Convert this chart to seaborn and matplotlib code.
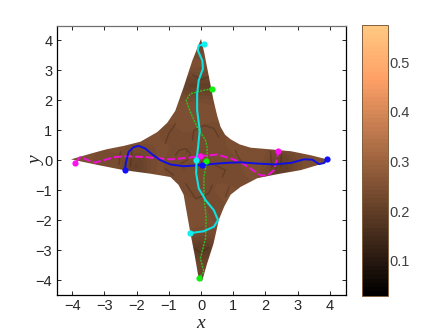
import numpy as np
import matplotlib
matplotlib.use("Agg")
import matplotlib.pyplot as plt
from matplotlib.patches import Polygon
import seaborn as sns

# star outline, read clockwise from the top tip
star_x = [0, .1, .19, .29, .39, .5, .61, .75, .92, 1.2, 1.54, 2.2, 2.8, 3.4, 4.03,
          3.6, 3.1, 2.4, 1.75, 1.23, .92, .72, .55, .47, .39, .19, .03,
          -.08, -.2, -.33, -.45, -.54, -.7, -.95, -1.57, -2.4, -3.2, -4.04,
          -3.4, -2.92, -2.4, -1.88, -1.36, -1.05, -.8, -.54, -.4, -.27]
star_y = [4.05, 3.6, 3.1, 2.55, 2.0, 1.5, 1.11, .85, .7, .53, .42, .36, .3, .17, 0,
          -.17, -.33, -.46, -.6, -.89, -1.15, -1.55, -2.0, -2.4, -2.78, -3.45, -4.05,
          -3.9, -3.15, -2.43, -1.7, -1.15, -.82, -.56, -.45, -.33, -.16, .03,
          .23, .37, .48, .62, .94, 1.25, 1.65, 2.44, 2.9, 3.33]

# brightness of the texture on a 0.5 grid, rows from y=4 down to y=-4, x from -4 to 4
field = [
    [.25, .25, .25, .25, .25, .25, .25, .25, .18, .25, .25, .25, .25, .25, .25, .25, .25],
    [.25, .25, .25, .25, .25, .25, .25, .25, .24, .25, .25, .25, .25, .25, .25, .25, .25],
    [.25, .25, .25, .25, .25, .25, .25, .25, .25, .25, .25, .25, .25, .25, .25, .25, .25],
    [.25, .25, .25, .25, .25, .25, .25, .18, .19, .18, .25, .25, .25, .25, .25, .25, .25],
    [.25, .25, .25, .25, .25, .25, .25, .25, .25, .24, .25, .25, .25, .25, .25, .25, .25],
    [.25, .25, .25, .25, .25, .25, .25, .25, .25, .25, .25, .25, .25, .25, .25, .25, .25],
    [.25, .25, .25, .25, .25, .25, .23, .25, .24, .23, .25, .25, .25, .25, .25, .25, .25],
    [.25, .25, .25, .25, .25, .24, .25, .23, .23, .24, .25, .24, .25, .25, .25, .25, .25],
    [.25, .25, .22, .25, .18, .25, .24, .23, .25, .23, .24, .25, .25, .18, .24, .25, .23],
    [.25, .25, .25, .25, .19, .25, .24, .23, .24, .24, .23, .25, .24, .17, .25, .25, .25],
    [.25, .25, .25, .25, .25, .25, .25, .24, .23, .25, .25, .23, .25, .25, .25, .25, .25],
    [.25, .25, .25, .25, .25, .25, .25, .25, .25, .23, .25, .25, .25, .25, .25, .25, .25],
    [.25, .25, .25, .25, .25, .25, .25, .25, .25, .24, .25, .25, .25, .25, .25, .25, .25],
    [.25, .25, .25, .25, .25, .25, .25, .25, .23, .25, .25, .25, .25, .25, .25, .25, .25],
    [.25, .25, .25, .25, .25, .25, .25, .18, .17, .18, .25, .25, .25, .25, .25, .25, .25],
    [.25, .25, .25, .25, .25, .25, .25, .25, .23, .25, .25, .25, .25, .25, .25, .25, .25],
    [.25, .25, .25, .25, .25, .25, .25, .25, .18, .25, .25, .25, .25, .25, .25, .25, .25],
]

# dark streaks in the texture
swirls = [
    ([-.79, -.69, -.48, -.33, -.43, -.64], [.17, .33, .39, .22, 0, -.11]),
    ([-.79, -1, -1.11], [1.22, .89, .56]),
    ([-.27, -.22, .09, .4, .55], [.67, 1.0, 1.17, 1.06, .78]),
    ([1.07, 1.18, 1.33], [.33, .06, -.11]),
    ([-.48, -.17, .24, .35], [-.78, -1.28, -1.11, -.83]),
    ([.87, .76], [-.89, -1.22]),
    ([-1.11, -.85], [-.28, -.5]),
    ([.45, .76, .66], [-.17, -.33, -.56]),
    ([-2.14, -2.2], [.35, -.2]),
    ([-2.5, -2.55], [.3, -.15]),
    ([2.16, 2.2], [.3, -.25]),
    ([2.5, 2.48], [.25, -.2]),
    ([-.25, 0, .3], [2.85, 2.7, 2.8]),
    ([-.2, 0, .25], [-2.95, -3.1, -2.9]),
]

blue_x = [-2.37, -2.33, -2.25, -2.09, -1.94, -1.73, -1.52, -1.26, -.95, -.54, .04, .5, .92, 1.23, 1.75, 2.27, 2.79, 3.2, 3.46, 3.67, 3.83, 3.91]
blue_y = [-.33, -.06, .28, .44, .48, .39, .2, 0, -.14, -.2, -.16, -.11, -.08, -.07, -.11, -.14, -.09, .03, .02, -.13, -.09, .03]

magenta_x = [-3.9, -3.75, -3.55, -3.29, -3.03, -2.66, -2.3, -1.78, -1.26, -.95, -.33, -.02, .5, .92, 1.23, 1.54, 1.85, 2.06, 2.27, 2.35, 2.4]
magenta_y = [-.08, .11, .02, -.08, 0, .11, .13, .11, .06, .03, .09, .14, .19, .06, -.06, -.28, -.5, -.52, -.33, 0, .3]

cyan_x = [.09, -.07, -.1, .04, .06, -.07, -.12, -.12, -.04, -.09, -.14, -.15, -.07, .14, .4, .53, .4, .09, -.3]
cyan_y = [3.87, 3.83, 3.67, 3.33, 3.06, 2.67, 2.22, 1.67, 1.0, .44, 0, -.44, -.94, -1.33, -1.67, -2.0, -2.22, -2.37, -2.43]

green_x = [.33, -.02, -.33, -.46, -.33, -.12, .14, .19, .19, .09, .09, .16, .14, -.02, .09, -.05]
green_y = [2.39, 2.31, 2.22, 2.0, 1.61, 1.11, .67, .44, 0, -.56, -1.17, -1.93, -2.61, -3.28, -3.72, -3.92]

# start, middle and end dots of each path
blue_dots = ([-2.37, .04, 3.91], [-.33, -.16, .03])
magenta_dots = ([-3.9, -.02, 2.4], [-.08, .14, .3])
cyan_dots = ([.09, -.14, -.33], [3.87, 0, -2.43])
green_dots = ([.33, .16, -.05], [2.39, -.02, -3.92])

ticks = [-4, -3, -2, -1, 0, 1, 2, 3, 4]
cbar_ticks = [.1, .2, .3, .4, .5]

sns.set_theme(style="ticks")
plt.rcParams.update({"font.family": "Liberation Sans", "font.size": 10})

fig = plt.figure(figsize=(4.36, 3.32), dpi=100)
ax = fig.add_axes([56.5 / 436, 37 / 332, 289 / 436, 269.5 / 332])
cax = fig.add_axes([362.3 / 436, 36.5 / 332, 25.4 / 436, 270.3 / 332])

img = ax.imshow(np.array(field), extent=[-4.25, 4.25, -4.25, 4.25], cmap=plt.get_cmap("copper", 64),
                vmin=.03, vmax=.575, interpolation="bicubic", aspect="auto")
star = Polygon(np.column_stack([star_x, star_y]), closed=True, transform=ax.transData,
               facecolor="none", edgecolor="none")
ax.add_patch(star)
img.set_clip_path(star)

for sx, sy in swirls:
    sns.lineplot(x=sx, y=sy, sort=False, estimator=None, color="#3a2212", lw=1.0, alpha=.35, ax=ax)
    ax.lines[-1].set_clip_path(star)

sns.lineplot(x=green_x, y=green_y, sort=False, estimator=None, color="#30c020", lw=1.0, ls=(0, (1.5, .8)), ax=ax)
sns.lineplot(x=magenta_x, y=magenta_y, sort=False, estimator=None, color="#ee10d8", lw=1.4, ls=(0, (4, 1.5)), ax=ax)
sns.lineplot(x=blue_x, y=blue_y, sort=False, estimator=None, color="#1010e0", lw=1.4, ax=ax)
sns.lineplot(x=cyan_x, y=cyan_y, sort=False, estimator=None, color="#10e0e0", lw=1.5, ax=ax)

for dots, col in [(green_dots, "#10f010"), (magenta_dots, "#ff10f0"), (blue_dots, "#1010ff"), (cyan_dots, "#10f0f0")]:
    sns.scatterplot(x=dots[0], y=dots[1], color=col, s=20, linewidth=0, ax=ax, zorder=5)

ax.set_xlim(-4.49, 4.49)
ax.set_ylim(-4.5, 4.5)
ax.set_xticks(ticks)
ax.set_yticks(ticks)
ax.tick_params(direction="in", top=True, right=True, length=3, width=.7, labelsize=10.5,
               labelcolor="#262626", pad=3)
for s in ax.spines.values():
    s.set_linewidth(.9)
    s.set_color("black")
ax.spines["top"].set_color("#707070")
ax.set_xlabel("x", family="Liberation Serif", style="italic", fontsize=14, color="#262626", labelpad=1.5)
ax.set_ylabel("y", family="Liberation Serif", style="italic", fontsize=14, color="#262626", labelpad=-7)

cb = fig.colorbar(img, cax=cax)
cb.set_ticks(cbar_ticks)
cb.ax.tick_params(direction="in", length=2, width=.5, labelsize=10.5, labelcolor="#404040", pad=1.5, color="#503820")
cb.outline.set_edgecolor("#806040")
cb.outline.set_linewidth(.7)

fig.savefig("out.png", dpi=100)
